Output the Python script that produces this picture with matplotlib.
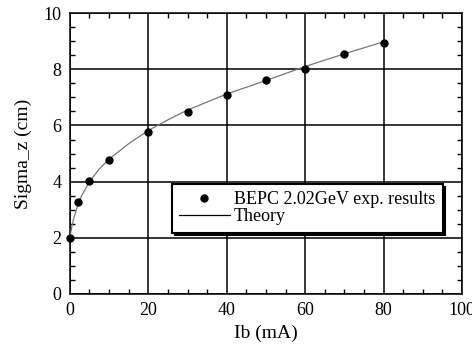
import numpy as np
import matplotlib
matplotlib.use("Agg")
import matplotlib.pyplot as plt
from matplotlib.ticker import MultipleLocator

plt.rcParams['font.family'] = ['Liberation Serif', 'DejaVu Serif']

# measured points
ib = [0, 2, 5, 10, 20, 30, 40, 50, 60, 70, 80]
sigma = [2.0, 3.27, 4.02, 4.77, 5.78, 6.48, 7.08, 7.62, 8.02, 8.53, 8.93]

# theory curve
ib_th = [0, 0.5, 1, 2, 3, 5, 7.5, 10, 15, 20, 25, 30, 40, 50, 60, 70, 80]
sigma_th = [2.0, 2.4, 2.7, 3.15, 3.5, 4.0, 4.45, 4.8, 5.35, 5.82, 6.2, 6.55, 7.12, 7.6, 8.1, 8.55, 8.98]

fig = plt.figure(figsize=(4.72, 3.54), dpi=100)
ax = fig.add_axes([0.148, 0.1695, 0.831, 0.7935])

ax.plot(ib_th, sigma_th, color='#777777', lw=0.9, zorder=3)
ax.plot(ib, sigma, 'o', color='black', ms=5, zorder=4, clip_on=False)

ax.set_xlim(0, 100)
ax.set_ylim(0, 10)
ax.xaxis.set_major_locator(MultipleLocator(20))
ax.xaxis.set_minor_locator(MultipleLocator(5))
ax.yaxis.set_major_locator(MultipleLocator(2))
ax.yaxis.set_minor_locator(MultipleLocator(0.5))
ax.tick_params(which='both', direction='in', top=True, right=True, labelsize=13, width=1)
ax.tick_params(which='major', length=0, pad=6)
ax.tick_params(which='minor', length=3.6)
ax.grid(True, which='major', color='black', lw=1.1)
for s in ax.spines.values():
    s.set_linewidth(1.1)

ax.set_xlabel('Ib (mA)', fontsize=14, labelpad=4)
ax.set_ylabel('Sigma_z (cm)', fontsize=14, labelpad=8)

h = [plt.Line2D([], [], ls='none', marker='o', color='black', ms=5),
     plt.Line2D([], [], color='black', lw=0.9)]
l = ['BEPC 2.02GeV exp. results', 'Theory']
leg = ax.legend(h, l, loc='upper left', bbox_to_anchor=(0.26, 0.391), fontsize=13,
                fancybox=False, shadow={'color': 'black', 'alpha': 1}, frameon=True, framealpha=1,
                borderaxespad=0, handlelength=2.8, labelspacing=0.0,
                handletextpad=0.25, borderpad=0.4)
leg.get_frame().set_edgecolor('black')
leg.get_frame().set_linewidth(1.5)

fig.savefig('out.png', dpi=100)
